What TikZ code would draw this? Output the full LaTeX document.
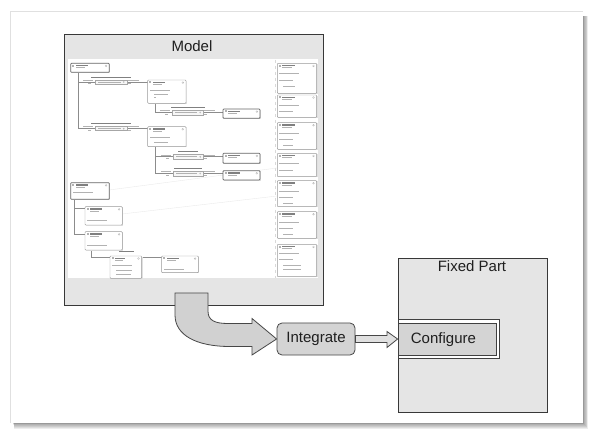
\documentclass[tikz,border=0pt]{standalone}
\usepackage{fontspec}
\setmainfont{Liberation Sans}
\usetikzlibrary{calc}
\tikzset{
  frame/.style={draw=black!78, line width=0.9pt},
  mini/.style={draw=black!40, line width=0.45pt, fill=white, rounded corners=0.8pt},
  minit/.style={draw=black!60, line width=0.75pt, fill=white, rounded corners=0.8pt},
  relb/.style={draw=black!35, line width=0.4pt, fill=black!3},
  txtd/.style={black!50},
  txtl/.style={black!30},
  mline/.style={draw=black!45, line width=0.5pt},
  bigtxt/.style={font=\fontsize{15}{18}\selectfont, text=black!88, inner sep=0pt},
  fatarrow/.style={draw=black!72, fill=black!18, line width=0.8pt, line join=miter},
  thinarrow/.style={draw=black!72, fill=black!12, line width=0.8pt, line join=miter},
}
% class box: x1 y1 x2 y2 {rows dy/indent/len} style
\newcommand\clsbox[6]{%
  \fill[black!12] ({#1+0.8},{#2+0.8}) rectangle ({#3+0.8},{#4+0.8});
  \draw[#6] (#1,#2) rectangle (#3,#4);
  \fill[txtl] ({#1+1.5},{#2+1.5}) rectangle ({#1+3.5},{#2+3.5});
  \fill[txtd] ({#1+5},{#2+1.8}) rectangle ({#1+5+0.33*(#3-#1)},{#2+2.9});
  \fill[txtl] ({#1+5},{#2+4}) rectangle ({#1+5+0.25*(#3-#1)},{#2+4.8});
  \draw[txtl, line width=0.3pt] ({#3-3.2},{#2+2.6}) circle (0.9);
  \foreach \ra/\rb/\rc in {#5} {
    \fill[txtl] ({#1+\rb},{#2+\ra}) rectangle ({#1+\rb+\rc},{#2+\ra+0.9});
  }
}
% relationship box: x1 y1 x2 y2 labelhalfwidth
\newcommand\relbox[5]{%
  \draw[relb] (#1,#2) rectangle (#3,#4);
  \fill[txtl] ({#1+3},{(#2+#4)/2-0.4}) rectangle ({#3-6},{(#2+#4)/2+0.4});
  \draw[txtl, line width=0.3pt] ({#3-3},{(#2+#4)/2}) circle (0.7);
  \fill[txtd] ({(#1+#3)/2-#5},{#2-3.4}) rectangle ({(#1+#3)/2+#5},{#2-2.4});
  \fill[txtl] ({#1-12},{(#2+#4)/2-2.2}) rectangle ({#1-2},{(#2+#4)/2-1.4});
  \fill[txtl] ({#1-7},{(#2+#4)/2+1.4}) rectangle ({#1-4},{(#2+#4)/2+2.2});
  \fill[txtl] ({#3+1},{(#2+#4)/2-2.2}) rectangle ({#3+12},{(#2+#4)/2-1.4});
  \fill[txtl] ({#3+1},{(#2+#4)/2+1.4}) rectangle ({#3+4},{(#2+#4)/2+2.2});
}
\begin{document}
\begin{tikzpicture}[x=1pt,y=-1pt]
\useasboundingbox (0,0) rectangle (597,438);
% card with soft shadow (bottom and right)
\foreach \k in {0,...,6} {
  \fill[black,opacity=0.07] ({13+0.2*\k},{16}) rectangle ({583.5+0.75*\k},{423.5+0.95*\k});
}
\fill[white] (10,11) rectangle (583,423);
\draw[black!12, line width=0.4pt] (10,423) -- (10,11) -- (583,11);

% Model box
\node[frame, fill=black!10, minimum width=259pt, minimum height=271pt, inner sep=0pt] (model) at (193.5,169.5) {};
\node[bigtxt, anchor=base] (modeltitle) at (192,51.7) {Model};
% screenshot area
\fill[white] (68.3,59.3) rectangle (318,278.3);
\draw[black!15, dashed, line width=0.3pt] (275,60) -- (275,278);
\draw[black!8, line width=0.4pt] (109,190) -- (277,168);
\draw[black!8, line width=0.4pt] (122,214) -- (277,196);

% miniature connectors
\draw[mline] (78.3,72.3) -- (78.3,128.7);
\draw[mline] (78.3,82) -- (95,82);
\draw[mline] (126.7,82) -- (147.7,82);
\draw[mline] (78.3,128.7) -- (95,128.7);
\draw[mline] (126.7,128.7) -- (147.7,128.7);
\draw[mline] (155,103.3) -- (155,112.5) -- (171.7,112.5);
\draw[mline] (203.3,112.5) -- (223,112.5);
\draw[mline] (155,146.7) -- (155,173.3);
\draw[mline] (155,156.7) -- (173.3,156.7);
\draw[mline] (203.3,156.7) -- (223,156.7);
\draw[mline] (155,173.3) -- (173.3,173.3);
\draw[mline] (203.3,173.3) -- (223,173.3);
\draw[mline] (74,199.3) -- (74,234);
\draw[mline] (74,208.3) -- (85,208.3);
\draw[mline] (74,234) -- (85,234);
\draw[mline] (91.7,250) -- (91.7,257.7) -- (110,257.7);
\draw[mline] (141.7,257.7) -- (161.7,257.7);

% relationship boxes
\relbox{95}{80}{126.7}{84}{20}
\relbox{171.7}{110}{203.3}{115}{17}
\relbox{95}{126.7}{126.7}{130.7}{20}
\relbox{173.3}{154.3}{203.3}{159.3}{10}
\relbox{173.3}{171}{203.3}{176}{14}

% class boxes
\clsbox{70.7}{63.3}{109.3}{72.3}{0/0/0}{minit}
\clsbox{147.7}{80}{186}{103.3}{10/2/20, 14.5/6/14, 17.5/6/2}{mini}
\clsbox{223}{109}{260}{118.3}{0/0/0}{minit}
\clsbox{147.7}{126.7}{186}{146.7}{10/2/20, 15/6/14}{mini}
\clsbox{223}{153.3}{260}{163.3}{0/0/0}{minit}
\clsbox{223}{170.7}{260}{180}{0/0/0}{minit}
\clsbox{70.7}{182.7}{109.3}{199.3}{9/2/20}{minit}
\clsbox{85}{206.7}{122.3}{225}{13/2/20}{mini}
\clsbox{85}{231.7}{122.3}{250}{13/2/20}{mini}
\clsbox{110}{256}{141.7}{278.3}{9.5/2/20, 14/6/16, 18/6/15}{mini}
\fill[txtd] (119,250.8) rectangle (134,251.8);
\clsbox{161.7}{256}{198.3}{272.7}{13/2/20}{mini}
% right column
\clsbox{277.3}{63.3}{316.7}{93.3}{10/2/20, 16.5/2/14, 22.5/6/12}{mini}
\clsbox{277.3}{95}{316.7}{117.3}{10/2/20, 16.5/2/14}{mini}
\clsbox{277.3}{122.7}{316.7}{149.3}{10/2/20, 16.5/2/14, 22.5/6/10}{mini}
\clsbox{277.3}{153.3}{316.7}{176.7}{10/2/20, 16.5/2/14}{mini}
\clsbox{277.3}{180.7}{316.7}{206.7}{10/2/20, 16/2/14, 22/6/10}{mini}
\clsbox{277.3}{211.7}{316.7}{238.3}{10/2/20, 16/2/14, 22/6/10}{mini}
\clsbox{277.3}{244.3}{316.7}{276.7}{9/2/20, 15/2/14, 20.5/6/18, 24.5/6/18}{mini}

% Integrate
\node[draw=black!72, fill=black!17, rounded corners=5pt, line width=0.8pt,
      minimum width=78pt, minimum height=32pt, bigtxt] (integrate) at (316,339) {Integrate};
% big curved arrow from Model to Integrate
\draw[fatarrow] (175,293) -- (208,293) -- (208,311)
  .. controls (208,320) and (214,323.5) .. (228,323.5) -- (252,323.5) -- (252,318.5)
  -- (integrate.west) -- (252,355) -- (252,346.5) -- (230,346.5)
  .. controls (196,346.5) and (175,335) .. (175,315) -- cycle;

% Fixed Part
\node[frame, fill=black!10, minimum width=149pt, minimum height=154pt, inner sep=0pt] (fixed) at (472.5,335) {};
\node[bigtxt, anchor=base] (fixedtitle) at (472,271.7) {Fixed Part};
\node[draw=black!75, fill=white, line width=0.8pt, minimum width=101pt, minimum height=39pt, inner sep=0pt] (cfgout) at (448.5,338.5) {};
\node[draw=black!75, fill=black!17, line width=0.8pt, minimum width=98pt, minimum height=32pt, inner sep=0pt] (cfgin) at (447,339) {};
\node[bigtxt, anchor=base west] (cfgtext) at (410.7,344) {Configure};

% thin arrow from Integrate to Configure
\draw[thinarrow] ($(integrate.east)+(0,-3.5)$) -- (387,335.5) -- (387,331.5)
  -- (cfgin.west) -- (387,347.5) -- (387,342.5) -- ($(integrate.east)+(0,3.5)$) -- cycle;
\end{tikzpicture}
\end{document}
